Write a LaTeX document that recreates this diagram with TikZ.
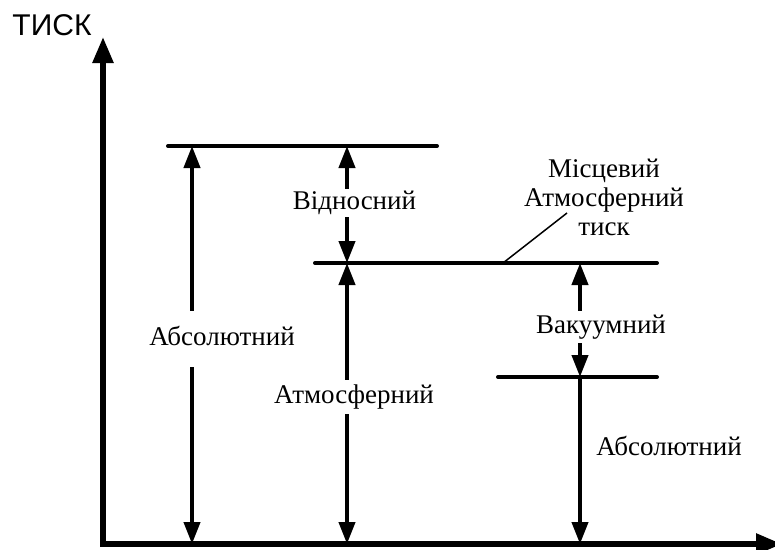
\documentclass[tikz,border=0pt]{standalone}
\usepackage{fontspec}
\setmainfont{Liberation Serif}
\newfontfamily\axisfont{Liberation Sans}
\usetikzlibrary{arrows.meta}
\usetikzlibrary{positioning}
\tikzset{
    levelline/.style={
           line width=4pt,
           line cap=round,
           },
    dim/.style={
           line width=4pt,
           -{Triangle[length=22pt,width=16pt]},
           },
    axisline/.style={
           line width=5.5pt,
           line join=miter,
           {Triangle[length=26pt,width=20pt]}-{Triangle[length=26pt,width=20pt]},
           },
    dimtext/.style={
           font=\fontsize{27}{29}\selectfont,
           text height=19pt,
           text depth=7pt,
           inner xsep=0pt,
           },
    note/.style={
           font=\fontsize{27}{29}\selectfont,
           align=center,
           inner sep=0pt,
           },
}

\begin{document}
\begin{tikzpicture}[x=1pt, y=-1pt]
 \useasboundingbox (0,0) rectangle (775,549);

 % axes
 \coordinate (O) at (103,544);
 \coordinate (ytop) at (103,37);
 \coordinate (xend) at (782,544);
 \draw[axisline] (ytop) -- (O) -- (xend);
 \node[font=\axisfont\fontsize{30}{32}\selectfont] (tisk) at (52,25) {ТИСК};

 % pressure levels
 \coordinate (hiL) at (168,146);
 \coordinate (hiR) at (437,146);
 \coordinate (atmL) at (315,263);
 \coordinate (atmR) at (657,263);
 \coordinate (vacL) at (498,377);
 \coordinate (vacR) at (657,377);
 \draw[levelline] (hiL) -- (hiR);
 \draw[levelline] (atmL) -- (atmR);
 \draw[levelline] (vacL) -- (vacR);

 % points where the arrows meet the levels
 \coordinate (p1) at (192,146);
 \coordinate (p2) at (347,146);
 \coordinate (p3) at (347,263);
 \coordinate (p4) at (580,263);
 \coordinate (p5) at (580,377);

 % absolute (left)
 \node[dimtext, inner ysep=15pt] (absL) at (222,339) {Абсолютний};
 \draw[dim] (absL.north -| p1) -- (p1);
 \draw[dim] (absL.south -| p1) -- (p1 |- O);

 % gauge
 \node[dimtext, inner ysep=1pt] (rel) at (354.5,203) {Відносний};
 \draw[dim] (rel.north -| p2) -- (p2);
 \draw[dim] (rel.south -| p2) -- (p3);

 % atmospheric
 \node[dimtext, inner ysep=4pt] (atm) at (354,397) {Атмосферний};
 \draw[dim] (atm.north -| p3) -- (p3);
 \draw[dim] (atm.south -| p3) -- (p3 |- O);

 % vacuum
 \node[dimtext, inner ysep=3pt] (vac) at (601,327) {Вакуумний};
 \draw[dim] (vac.north -| p4) -- (p4);
 \draw[dim] (vac.south -| p4) -- (p5);

 % absolute (right)
 \node[dimtext] (absR) at (669,449) {Абсолютний};
 \draw[dim] (p5) -- (p5 |- O);

 % local atmospheric pressure with leader
 \node[note] (local) at (604,197) {Місцевий\\Атмосферний\\тиск};
 \coordinate (leadA) at (503,263);
 \coordinate (leadB) at (567,213);
 \draw[line width=1.5pt] (leadA) -- (leadB);
\end{tikzpicture}
\end{document}
